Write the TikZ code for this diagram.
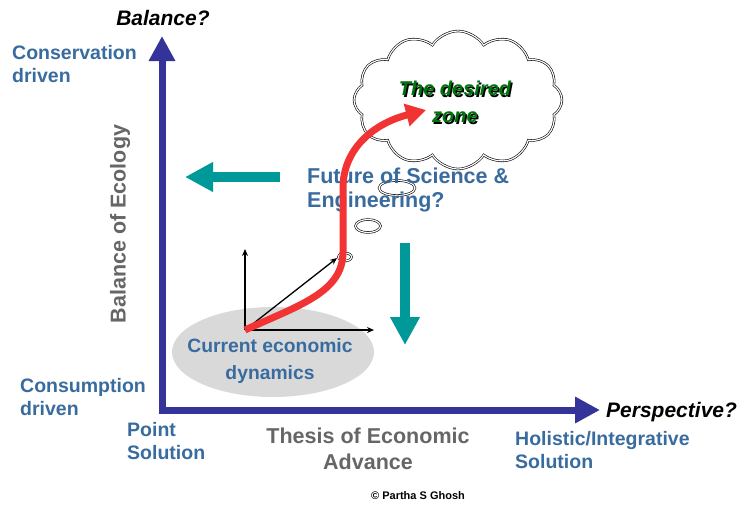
\documentclass[tikz,border=0pt]{standalone}
\usepackage{fontspec}
\setmainfont{Liberation Sans}
\usetikzlibrary{arrows.meta,calc,positioning,shapes.geometric,shapes.symbols}
\definecolor{axisblue}{rgb}{0.20,0.20,0.60}
\definecolor{labelblue}{rgb}{0.22,0.42,0.62}
\definecolor{tealarrow}{rgb}{0.00,0.60,0.60}
\definecolor{trendred}{rgb}{0.95,0.20,0.20}
\definecolor{zonegreen}{rgb}{0.00,0.45,0.05}
\definecolor{ellgray}{rgb}{0.85,0.85,0.85}
\tikzset{
  axis/.style={
    line width=7pt,
    draw=axisblue,
    line join=miter,
    {Triangle[width=25pt,length=25pt]}-{Triangle[width=25pt,length=25pt]}
  },
  label/.style={
    text=labelblue,
    align=left,
    inner sep=0pt,
    font=\bfseries\fontsize{19.5}{23}\selectfont
  },
  titel/.style={
    inner sep=0pt,
    font=\bfseries\itshape\fontsize{21}{25}\selectfont
  },
  grijs/.style={
    text=black!60,
    align=center,
    inner sep=0pt,
    font=\bfseries\fontsize{21.5}{26}\selectfont
  },
  wijzer/.style={
    line width=10pt,
    draw=tealarrow,
    -{Triangle[width=28pt,length=28pt]}
  },
  bel/.style={
    ellipse,
    draw,
    fill=white,
    line width=.6pt,
    double,
    double distance=1.2pt
  },
  trend/.style={
    line width=7pt,
    draw=trendred,
    -{Triangle[width=22pt,length=20pt]}
  },
  pijl/.style={
    -{Stealth[length=7pt,width=6pt]},
    line width=1.3pt
  }
}

\begin{document}
\begin{tikzpicture}[x=1pt,y=-1pt]
\useasboundingbox (0,0) rectangle (743,504);
% main axes
\coordinate (O) at (162,410);
\coordinate (ytop) at (162,36);
\coordinate (xend) at (600,410);
\draw[axis] (ytop) -- (O) -- (xend);
\node[titel] (bal) at (163,18) {Balance?};
\node[titel,anchor=west] (persp) at (606,412) {Perspective?};
\node[label,anchor=north west] (cons) at (12,45) {Conservation\\driven};
\node[label,anchor=north west] (consu) at (20,378) {Consumption\\driven};
\node[label,anchor=north west] (point) at (127,422) {Point\\Solution};
\node[label,anchor=north west] (holist) at (515,431) {Holistic/Integrative\\Solution};
\node[grijs] (thesis) at (368,449) {Thesis of Economic\\Advance};
\node[grijs,rotate=90] (ecol) at (120,224) {Balance of Ecology};
\node[inner sep=0pt,font=\bfseries\fontsize{11}{13}\selectfont] (copy) at (418,496) {\char"00A9\ Partha S Ghosh};
% current state
\node[ellipse,fill=ellgray,minimum width=202pt,minimum height=90pt] (curr) at (273,352) {};
\node[label,align=center,font=\bfseries\fontsize{19.3}{26}\selectfont] (currtxt) at (270,361) {Current economic\\dynamics};
\coordinate (o2) at (245,330);
\coordinate (o2up) at (245,249);
\coordinate (o2right) at (374,330);
\coordinate (o2diag) at (337,258);
\draw[pijl] (o2) -- (o2up);
\draw[pijl] (o2) -- (o2right);
\draw[pijl] (o2) -- (o2diag);
% direction arrows
\coordinate (lstart) at (280,177);
\coordinate (lend) at (185,177);
\coordinate (dstart) at (405,243);
\coordinate (dend) at (405,345);
\draw[wijzer] (lstart) -- (lend);
\draw[wijzer] (dstart) -- (dend);
% thought bubbles and cloud
\node[bel,minimum width=36pt,minimum height=15pt] (b1) at (397,188) {};
\node[bel,minimum width=25pt,minimum height=13pt] (b2) at (368,226) {};
\node[bel,minimum width=13pt,minimum height=8pt,inner sep=0pt] (b3) at (345,257) {};
\node[cloud,cloud puffs=12,cloud puff arc=115,aspect=1.7,draw,fill=white,
  line width=.6pt,double,double distance=1.2pt,
  minimum width=208pt,minimum height=138pt] (zone) at (458,100) {};
\node[align=center,text=black,font=\bfseries\itshape\fontsize{20}{27}\selectfont]
  (zoneshadow) at ($(zone)+(-1.5,3.5)$) {The desired\\zone};
\node[align=center,text=zonegreen,font=\bfseries\itshape\fontsize{20}{27}\selectfont]
  (zonetxt) at ($(zone)+(-3,2)$) {The desired\\zone};
\node[label,anchor=west,font=\bfseries\fontsize{21.5}{24}\selectfont] (future) at (307,190) {Future of Science \&\\Engineering?};
% trajectory
\coordinate (ztip) at (426,110);
\draw[trend] (o2) .. controls (300,305) and (343,292) .. (343,252)
  -- (343,188) .. controls (343,150) and (372,124) .. (ztip);
\end{tikzpicture}
\end{document}
